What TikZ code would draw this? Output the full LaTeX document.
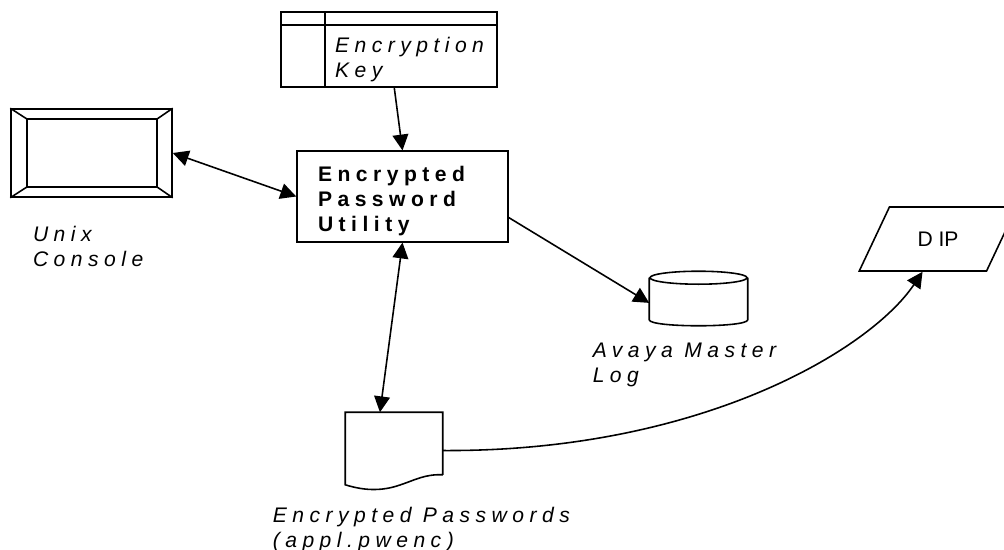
\documentclass[tikz,border=0pt]{standalone}
\usepackage{fontspec}
\setmainfont{Liberation Sans}
\newfontfamily\spacedsans[LetterSpace=26]{Liberation Sans}
\usetikzlibrary{arrows.meta, positioning, shapes.geometric, calc}

\begin{document}
\begin{tikzpicture}[
    x=0.02cm, y=-0.02cm,
    line width=0.9pt,
    caption/.style={font=\spacedsans\fontsize{12pt}{14.2pt}\selectfont\itshape, align=left, inner sep=0pt, anchor=north west},
    arrow/.style={-{Triangle[length=9pt, width=9pt]}},
    dblarrow/.style={{Triangle[length=9pt, width=9pt]}-{Triangle[length=9pt, width=9pt]}}
  ]
  \useasboundingbox (0,0) rectangle (1004,550);
  \clip (0,0) rectangle (1004,550);

  % console with bevelled frame
  \node[draw, minimum width=3.22cm, minimum height=1.76cm] (console) at (91.5,153) {};
  \draw ([shift={(17,11)}]console.north west) rectangle ([shift={(-16,-11)}]console.south east);
  \foreach \corner/\dx/\dy in {north west/17/11, north east/-16/11, south east/-16/-11, south west/17/-11}
    \draw (console.\corner) -- ([shift={(\dx,\dy)}]console.\corner);
  \node[caption, below right=0.56cm and 0.44cm of console.south west] (consolelabel) {Unix\\Console};

  % key store
  \node[draw, minimum width=4.32cm, minimum height=1.5cm] (key) at (389,49.5) {};
  \draw ([shift={(45,0)}]key.north west) -- ([shift={(45,0)}]key.south west);
  \draw ([shift={(0,14)}]key.north west) -- ([shift={(0,14)}]key.north east);
  \node[caption, below right=0.5cm and 1.08cm of key.north west] (keylabel) {Encryption\\Key};

  % the utility
  \node[draw, minimum width=4.22cm, minimum height=1.74cm, text width=3.38cm, inner xsep=0.42cm, align=left,
        font=\spacedsans\fontsize{12pt}{14.2pt}\selectfont\bfseries] (util) at (402.5,196.5)
        {\rule{0pt}{14pt}Encrypted\\Password\\Utility};

  % master log (cylinder)
  \node[minimum width=1.94cm, minimum height=1.06cm, inner sep=0pt] (log) at (698.5,298.5) {};
  \draw ($(log.north)+(0,6.5)$) ellipse [x radius=48.5, y radius=6.5];
  \draw ($(log.north west)+(0,6.5)$) -- ($(log.south west)+(0,-6)$)
    .. controls ($(log.south west)+(0,2)$) and ($(log.south east)+(0,2)$) .. ($(log.south east)+(0,-6)$)
    -- ($(log.north east)+(0,6.5)$);
  \node[caption] (loglabel) at (592,342) {Avaya Master\\Log};

  % password file
  \node[minimum width=1.92cm, minimum height=1.22cm, inner sep=0pt] (pwfile) at (394,443.5) {};
  \draw (pwfile.south east) -- (pwfile.north east) -- (pwfile.north west) -- ($(pwfile.south west)+(0,10)$)
    .. controls (362,490) and (380,492) .. (400,485) .. controls (415,480) and (425,474) .. (pwfile.south east);
  \node[caption] (pwlabel) at (272,506) {Encrypted Passwords\\(appl.pwenc)};

  % DIP
  \node[draw, trapezium, trapezium left angle=58, trapezium right angle=122, trapezium stretches=true,
        minimum width=3.16cm, minimum height=1.28cm, font=\fontsize{12pt}{14.2pt}\selectfont] (dip) at (938,239) {D IP};

  \draw[arrow] ([xshift=3pt]key.south) -- (util.north);
  \draw[dblarrow] (console.east) -- (util.west);
  \draw[arrow] ([yshift=-12pt]util.east) -- ([yshift=-2.5pt]log.west);
  \draw[dblarrow] (util.south) -- ([xshift=-8pt]pwfile.north);
  \draw[arrow] ([yshift=-4pt]pwfile.east) .. controls (700,452) and (870,350) .. (dip.bottom side);
\end{tikzpicture}
\end{document}
